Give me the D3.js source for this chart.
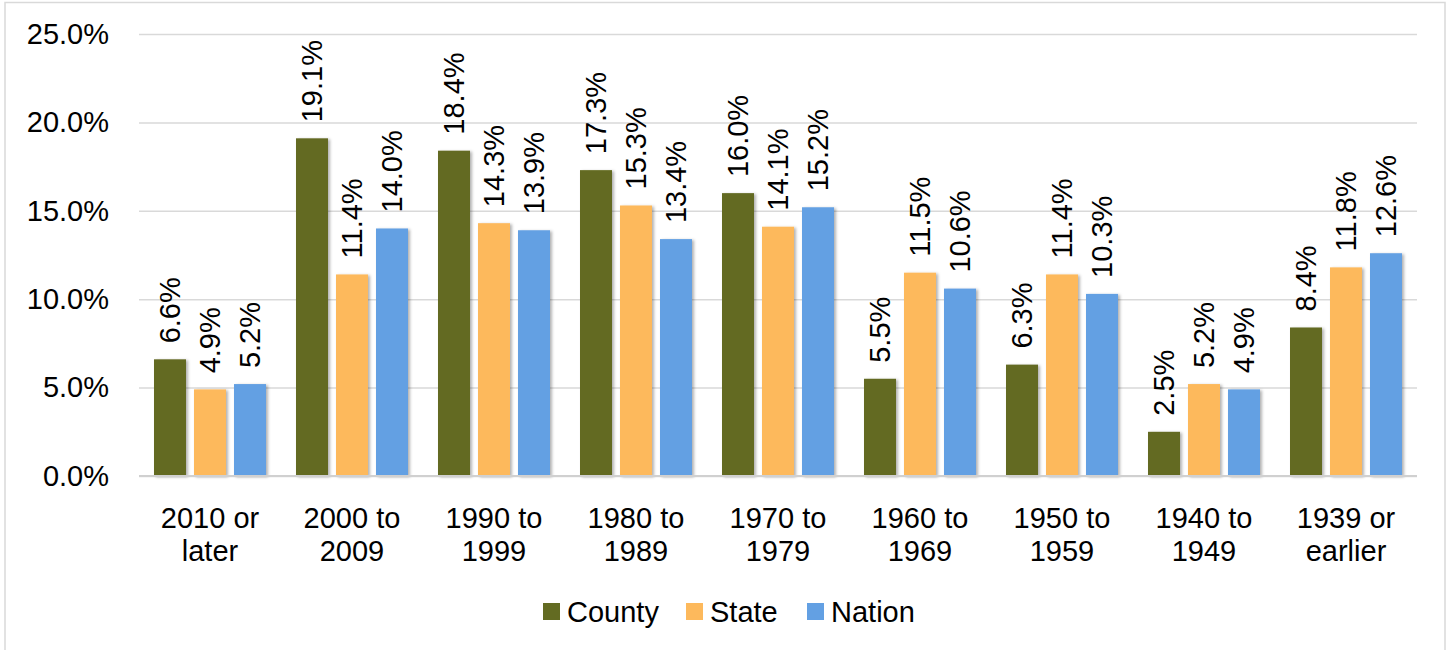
<!DOCTYPE html>
<html lang="en">
<head>
<meta charset="UTF-8">
<title>Year structure built</title>
<script src="https://cdn.jsdelivr.net/npm/d3@7"></script>
<style>
  body { margin: 0; background: #fff; }
  text { font-family: "Liberation Sans", Arial, sans-serif; fill: #000; }
  .grid line { stroke: #d9d9d9; stroke-width: 1.5px; }
  .grid path { stroke: none; }
  .ylab text { font-size: 29px; }
  .xlab text { font-size: 29px; }
  .val { font-size: 29px; }
  .legend text { font-size: 29px; }
</style>
</head>
<body>
<div id="chart"></div>
<script>
// data
var categories = ["2010 or later", "2000 to 2009", "1990 to 1999", "1980 to 1989", "1970 to 1979",
                  "1960 to 1969", "1950 to 1959", "1940 to 1949", "1939 or earlier"];
var seriesNames = ["County", "State", "Nation"];
var county = [6.6, 19.1, 18.4, 17.3, 16.0, 5.5, 6.3, 2.5, 8.4];
var state  = [4.9, 11.4, 14.3, 15.3, 14.1, 11.5, 11.4, 5.2, 11.8];
var nation = [5.2, 14.0, 13.9, 13.4, 15.2, 10.6, 10.3, 4.9, 12.6];
var yTicks = [0, 5, 10, 15, 20, 25];
var colors = ["#636b22", "#fdb95c", "#63a0e3"];

var W = 1449, H = 650;
var pLeft = 139, pRight = 1417, pTop = 34, pBottom = 476;

var rows = categories.map(function(c, i) {
  return { cat: c, vals: [county[i], state[i], nation[i]] };
});

var svg = d3.select("#chart").append("svg")
  .attr("width", W).attr("height", H);

// drop shadow for bars
var f = svg.append("defs").append("filter").attr("id", "shadow")
  .attr("x", "-20%").attr("y", "-5%").attr("width", "150%").attr("height", "115%");
f.append("feDropShadow").attr("dx", 2).attr("dy", 1).attr("stdDeviation", 1.5)
  .attr("flood-color", "#000").attr("flood-opacity", 0.3);

// outer frame
svg.append("rect")
  .attr("x", 5).attr("y", 2.5).attr("width", 1440).attr("height", 660)
  .attr("fill", "none").attr("stroke", "#d9d9d9").attr("stroke-width", 1.5);

var x = d3.scaleBand().domain(categories).range([pLeft, pRight]).paddingInner(0).paddingOuter(0);
var xs = d3.scaleBand().domain(seriesNames).range([15, x.bandwidth() - 15]).paddingInner(0.2);
var y = d3.scaleLinear().domain([0, 25]).range([pBottom, pTop]);

// grid
svg.append("g").attr("class", "grid")
  .attr("transform", "translate(" + pLeft + ",0)")
  .call(d3.axisRight(y).tickValues(yTicks).tickSize(pRight - pLeft).tickFormat(""));

// y labels
var ya = svg.append("g").attr("class", "ylab")
  .attr("transform", "translate(" + 109 + ",0)")
  .call(d3.axisLeft(y).tickValues(yTicks).tickSize(0).tickPadding(0)
    .tickFormat(function(d) { return d3.format(".1f")(d) + "%"; }));
ya.select(".domain").remove();
ya.selectAll("text").attr("fill", "#000");

// bars
var groups = svg.selectAll("g.cat").data(rows).enter().append("g")
  .attr("class", "cat")
  .attr("transform", function(d) { return "translate(" + x(d.cat) + ",0)"; });

groups.selectAll("rect").data(function(d) { return d.vals; }).enter().append("rect")
  .attr("x", function(d, i) { return xs(seriesNames[i]); })
  .attr("y", function(d) { return y(d); })
  .attr("width", xs.bandwidth())
  .attr("height", function(d) { return pBottom - y(d); })
  .attr("fill", function(d, i) { return colors[i]; })
  .attr("filter", "url(#shadow)");

groups.selectAll("text.val").data(function(d) { return d.vals; }).enter().append("text")
  .attr("class", "val")
  .attr("transform", function(d, i) {
    return "translate(" + (xs(seriesNames[i]) + xs.bandwidth() / 2) + "," + (y(d) - 16) + ") rotate(-90)";
  })
  .attr("dy", "0.36em")
  .text(function(d) { return d.toFixed(1) + "%"; });

// baseline
svg.append("line")
  .attr("x1", pLeft).attr("x2", pRight).attr("y1", pBottom).attr("y2", pBottom)
  .attr("stroke", "#d0d0d0").attr("stroke-width", 2);

// category labels (two lines)
var xl = svg.append("g").attr("class", "xlab");
categories.forEach(function(c) {
  var words = c.split(" ");
  var l1 = words.slice(0, 2).join(" "), l2 = words.slice(2).join(" ");
  var cx = x(c) + x.bandwidth() / 2;
  var t = xl.append("text").attr("text-anchor", "middle").attr("x", cx).attr("y", 528);
  t.append("tspan").attr("x", cx).text(l1);
  t.append("tspan").attr("x", cx).attr("dy", 33).text(l2);
});

// legend
var legX = [543, 686, 807];
var lg = svg.append("g").attr("class", "legend");
seriesNames.forEach(function(s, i) {
  lg.append("rect").attr("x", legX[i]).attr("y", 603).attr("width", 17).attr("height", 17)
    .attr("fill", colors[i]);
  lg.append("text").attr("x", legX[i] + 24).attr("y", 622).text(s);
});
</script>
</body>
</html>
